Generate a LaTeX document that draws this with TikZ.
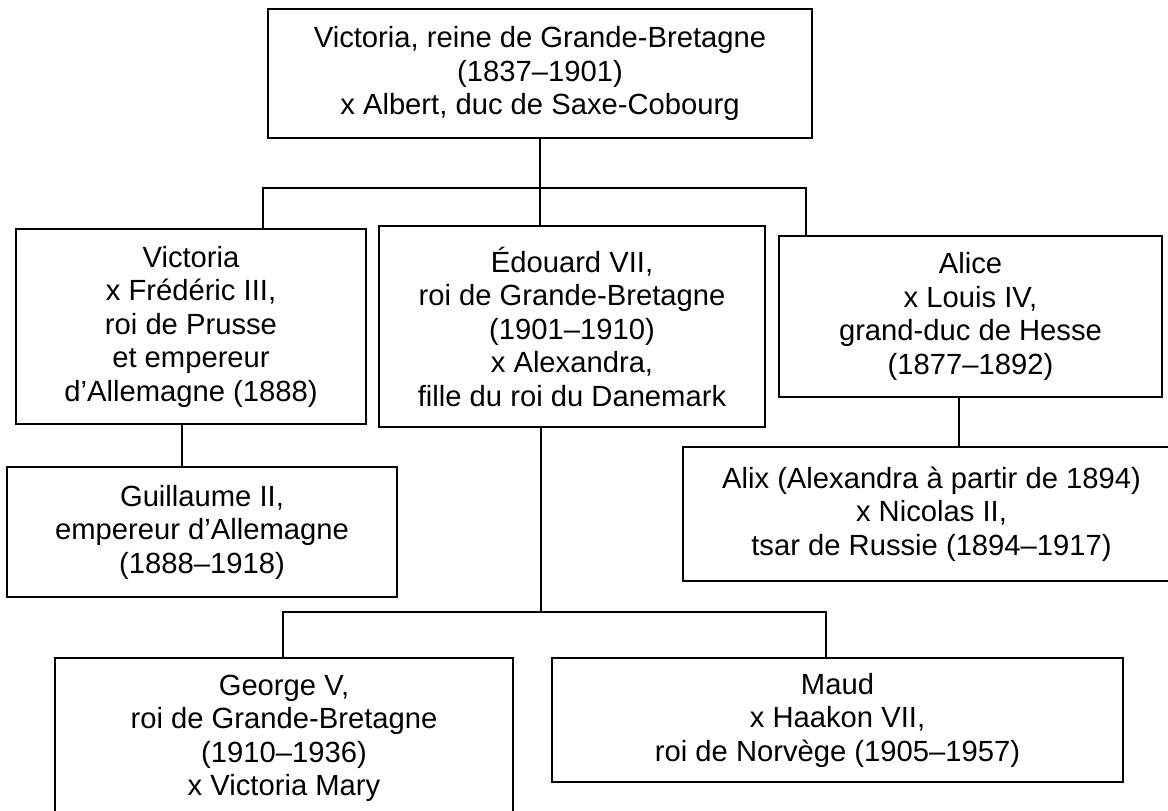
\documentclass[tikz,border=0pt]{standalone}
\usepackage{fontspec}
\setmainfont{Liberation Sans}
\usetikzlibrary{positioning}
\usetikzlibrary{calc}

\begin{document}
\begin{tikzpicture}[x=1pt,y=1pt,
   person/.style={draw, line width=1.3pt, align=center, inner sep=0pt,
      font=\fontsize{29.2}{33.5}\selectfont},
   link/.style={line width=1.3pt}]
\useasboundingbox (0,0) rectangle (1168,811);
\node[person, minimum width=544pt, minimum height=129pt] (victoria) at (540,737.5)
   {Victoria, reine de Grande-Bretagne\\(1837–1901)\\x Albert, duc de Saxe-Cobourg};
\node[person, minimum width=350pt, minimum height=195pt] (vicky) at (191,484.5)
   {Victoria\\x Frédéric III,\\roi de Prusse\\et empereur\\d’Allemagne (1888)};
\node[person, minimum width=386pt, minimum height=201pt] (edouard) at (572,484.5)
   {Édouard VII,\\roi de Grande-Bretagne\\(1901–1910)\\x Alexandra,\\fille du roi du Danemark};
\node[person, minimum width=383pt, minimum height=161pt] (alice) at (970.5,494.5)
   {Alice\\x Louis IV,\\grand-duc de Hesse\\(1877–1892)};
\node[person, minimum width=390pt, minimum height=130pt] (guillaume) at (202,279)
   {Guillaume II,\\empereur d’Allemagne\\(1888–1918)};
\node[person, minimum width=497pt, minimum height=134pt] (alix) at (931.5,297)
   {Alix (Alexandra à partir de 1894)\\x Nicolas II,\\tsar de Russie (1894–1917)};
\node[person, minimum width=458pt, minimum height=161pt] (george) at (284,72.5)
   {George V,\\roi de Grande-Bretagne\\(1910–1936)\\x Victoria Mary};
\node[person, minimum width=571pt, minimum height=124pt] (maud) at (837.5,91)
   {Maud\\x Haakon VII,\\roi de Norvège (1905–1957)};

\coordinate (busL) at (263,623);
\coordinate (busR) at (806,623);
\coordinate (subL) at (283,199);
\coordinate (subR) at (826,199);
\draw[link] (victoria.south) -- (victoria.south |- edouard.north);
\draw[link] (vicky.north -| busL) |- (busR) -- (alice.north -| busR);
\draw[link] ([xshift=-9pt]vicky.south) -- ([xshift=-9pt]vicky.south |- guillaume.north);
\draw[link] ([xshift=-11.5pt]alice.south) -- ([xshift=-11.5pt]alice.south |- alix.north);
\draw[link] ([xshift=-31pt]edouard.south) -- ([xshift=-31pt]edouard.south |- subL);
\draw[link] (george.north -| subL) |- (subR) -- (maud.north -| subR);
\end{tikzpicture}
\end{document}
